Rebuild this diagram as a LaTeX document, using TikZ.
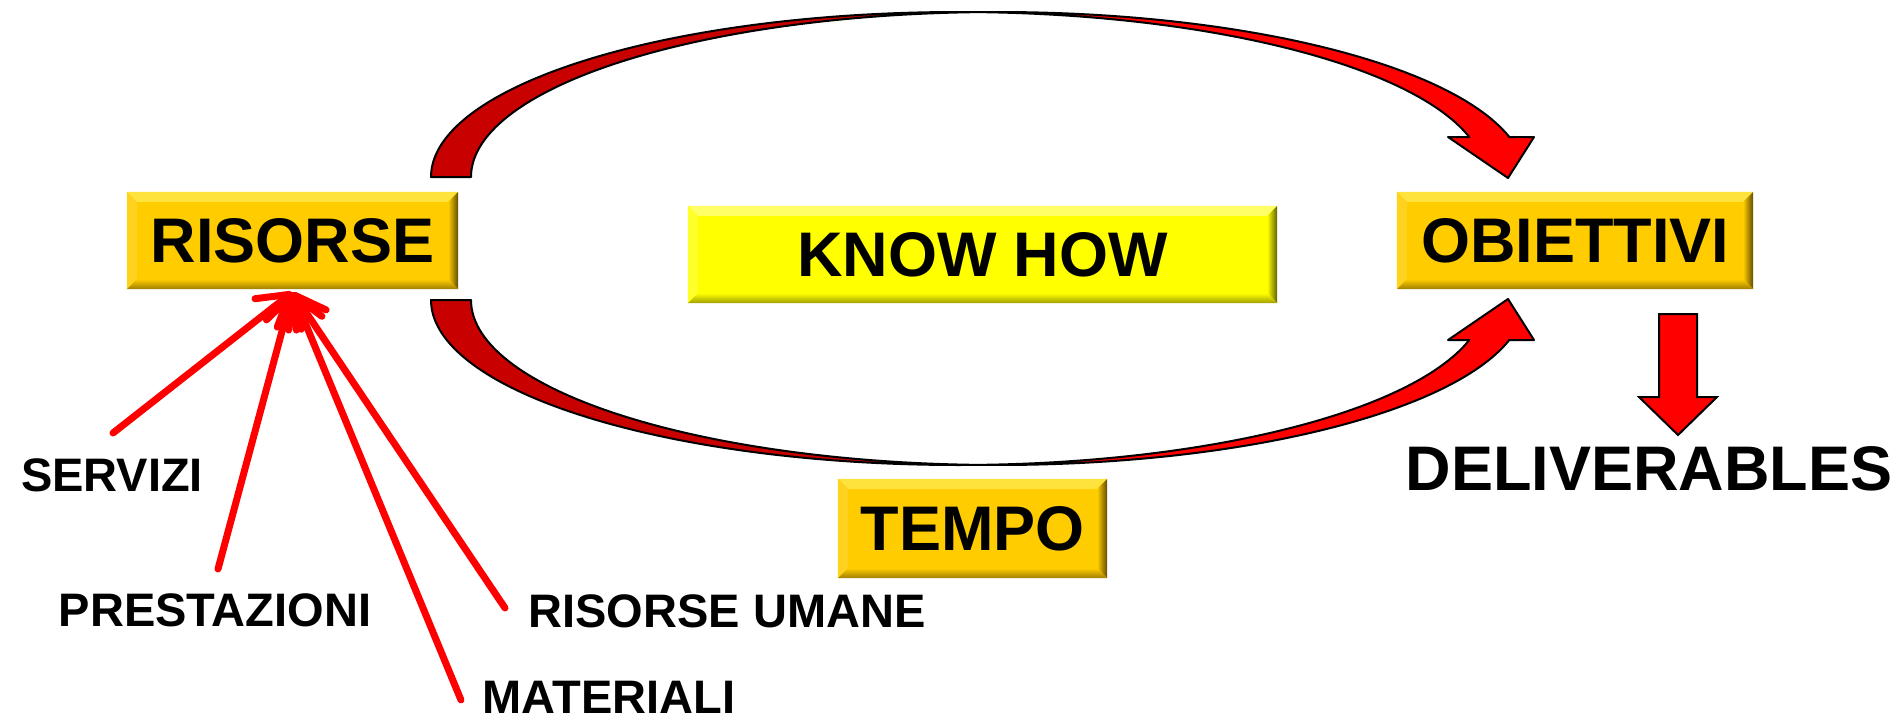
\documentclass[tikz,border=0pt]{standalone}
\usepackage{fontspec}
\setmainfont{Liberation Sans}
\usetikzlibrary{arrows.meta,calc}
\definecolor{gold}{HTML}{FFCC00}
\definecolor{goldlight}{HTML}{FFE33D}
\definecolor{goldleft}{HTML}{FFD21F}
\definecolor{goldright}{HTML}{5E4B00}
\definecolor{goldbottom}{HTML}{9E7E00}
\definecolor{yel}{HTML}{FFFF00}
\definecolor{yellight}{HTML}{FFFF66}
\definecolor{yelleft}{HTML}{FFFF2A}
\definecolor{yelright}{HTML}{5E5E00}
\definecolor{yelbottom}{HTML}{9E9E00}
\definecolor{darkred}{HTML}{C80000}
\definecolor{brightred}{HTML}{FF0000}
\newcommand\bevel[6]{%
  \fill[#2] (#1.north west) -- (#1.north east) -- ($(#1.north east)+(-10,10)$) -- ($(#1.north west)+(10,10)$) -- cycle;
  \fill[#3] (#1.north west) -- ($(#1.north west)+(10,10)$) -- ($(#1.south west)+(10,-10)$) -- (#1.south west) -- cycle;
  \shade[left color=#6, right color=#4] (#1.north east) -- (#1.south east) -- ($(#1.south east)+(-10,-10)$) -- ($(#1.north east)+(-10,10)$) -- cycle;
  \shade[top color=#6, bottom color=#5] (#1.south west) -- (#1.south east) -- ($(#1.south east)+(-10,-10)$) -- ($(#1.south west)+(10,-10)$) -- cycle;
}
\begin{document}
\begin{tikzpicture}[x=1pt,y=-1pt,
  box/.style={inner sep=0pt, font=\bfseries\fontsize{63}{63}\selectfont, minimum height=97pt},
  lbl/.style={inner sep=0pt, font=\bfseries\fontsize{47}{47}\selectfont},
  big/.style={inner sep=0pt, font=\bfseries\fontsize{63}{63}\selectfont},
  feed/.style={brightred, line width=7pt, line cap=round, -{Straight Barb[length=30pt,width=36pt,round]}},
  band/.style={draw=black, line width=2pt, line join=round}]
\fill[white] (0,0) rectangle (1903,721);
\useasboundingbox (0,0) rectangle (1903,721);

% curved arrows
\path[band, fill=darkred]
  plot[domain=180:87.83, samples=90, variable=\t] ({958+527*cos(\t)},{177-165*sin(\t)})
  -- plot[domain=92.17:180, samples=90, variable=\t] ({998+527*cos(\t)},{177-165*sin(\t)}) -- cycle;
\path[band, fill=brightred]
  plot[domain=92.17:14.03, samples=90, variable=\t] ({998+527*cos(\t)},{177-165*sin(\t)})
  -- (1534,137) -- (1508,178) -- (1448,137)
  -- plot[domain=14.03:87.83, samples=90, variable=\t] ({958+527*cos(\t)},{177-165*sin(\t)}) -- cycle;
\path[band, fill=darkred]
  plot[domain=180:87.83, samples=90, variable=\t] ({958+527*cos(\t)},{300+165*sin(\t)})
  -- plot[domain=92.17:180, samples=90, variable=\t] ({998+527*cos(\t)},{300+165*sin(\t)}) -- cycle;
\path[band, fill=brightred]
  plot[domain=92.17:14.03, samples=90, variable=\t] ({998+527*cos(\t)},{300+165*sin(\t)})
  -- (1534,340) -- (1508,299) -- (1448,340)
  -- plot[domain=14.03:87.83, samples=90, variable=\t] ({958+527*cos(\t)},{300+165*sin(\t)}) -- cycle;

% boxes
\node[box, fill=gold, minimum width=331pt] (ris) at (292.5,240.5) {RISORSE};
\bevel{ris}{goldlight}{goldleft}{goldright}{goldbottom}{gold}
\node[box, fill=gold, minimum width=356pt] (obi) at (1575,240.5) {OBIETTIVI};
\bevel{obi}{goldlight}{goldleft}{goldright}{goldbottom}{gold}
\node[box, fill=yel, minimum width=589pt] (know) at (982.5,254.5) {KNOW HOW};
\bevel{know}{yellight}{yelleft}{yelright}{yelbottom}{yel}
\node[box, fill=gold, minimum width=269pt, minimum height=99pt] (tempo) at (972.5,528.5) {TEMPO};
\bevel{tempo}{goldlight}{goldleft}{goldright}{goldbottom}{gold}

% labels
\node[lbl] (serv) at (112,475) {SERVIZI};
\node[lbl] (prest) at (215,610) {PRESTAZIONI};
\node[lbl] (um) at (727,611) {RISORSE UMANE};
\node[lbl] (mat) at (609,697) {MATERIALI};
\node[big] (deliv) at (1649,469) {DELIVERABLES};

% feeding lines
\coordinate (servEnd) at (113,433);
\coordinate (prestEnd) at (218,569);
\coordinate (matEnd) at (461,700);
\coordinate (umEnd) at (505,608);
\coordinate (apex) at ($(ris.south)+(0,3)$);
\draw[feed] (servEnd) -- (apex);
\draw[feed] (prestEnd) -- (apex);
\draw[feed] (matEnd) -- (apex);
\draw[feed] (umEnd) -- (apex);

% deliverables arrow
\draw[fill=brightred, line width=2pt, line join=miter]
  (1659,314) -- (1697,314) -- (1697,397) -- (1717,397) -- (1678,435) -- (1639,397) -- (1659,397) -- cycle;
\end{tikzpicture}
\end{document}
